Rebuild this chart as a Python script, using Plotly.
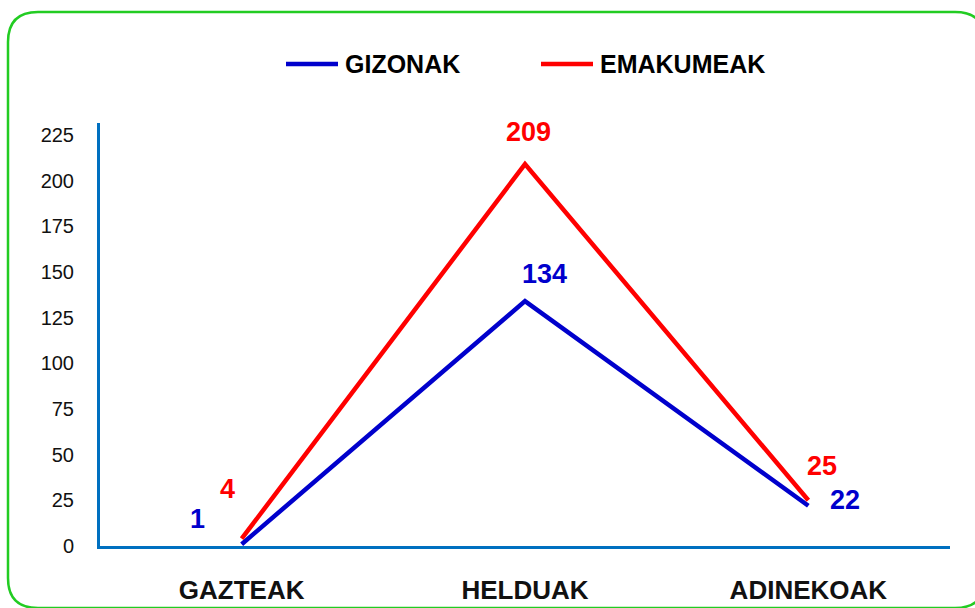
import plotly.graph_objects as go

categories = ["GAZTEAK", "HELDUAK", "ADINEKOAK"]
series_names = ["GIZONAK", "EMAKUMEAK"]
gizonak = [1, 134, 22]
emakumeak = [4, 209, 25]
y_ticks = [0, 25, 50, 75, 100, 125, 150, 175, 200, 225]

BLUE = "#0000CC"
RED = "#FF0000"
AXIS = "#0070C0"
GREEN = "#22CC22"

W, H = 975, 608
L, R, T, B = 100, 25, 123, 62
PW, PH = W - L - R, H - T - B

def px(x):
    return (x - L) / PW

def py(y):
    return (H - B - y) / PH

fig = go.Figure()
x_idx = list(range(len(categories)))
fig.add_trace(go.Scatter(x=x_idx, y=gizonak, mode="lines", line=dict(color=BLUE, width=4.5),
                         name=series_names[0], showlegend=False))
fig.add_trace(go.Scatter(x=x_idx, y=emakumeak, mode="lines", line=dict(color=RED, width=4.5),
                         name=series_names[1], showlegend=False))

# data labels
offs_b = [(-44, 25), (19, 27), (37, 6)]
offs_r = [(-14, 50), (3, 32), (14, 34)]
for i in x_idx:
    fig.add_annotation(x=i, y=gizonak[i], text="<b>%d</b>" % gizonak[i], showarrow=False,
                       xshift=offs_b[i][0], yshift=offs_b[i][1],
                       font=dict(family="Liberation Sans", size=27, color=BLUE))
    fig.add_annotation(x=i, y=emakumeak[i], text="<b>%d</b>" % emakumeak[i], showarrow=False,
                       xshift=offs_r[i][0], yshift=offs_r[i][1],
                       font=dict(family="Liberation Sans", size=27, color=RED))

# legend (manual)
legend_items = [(286, 338, 343, BLUE), (541, 593, 598, RED)]
for name, (x0, x1, tx, col) in zip(series_names, legend_items):
    fig.add_shape(type="line", xref="paper", yref="paper", x0=px(x0), x1=px(x1),
                  y0=py(64), y1=py(64), line=dict(color=col, width=4.5))
    fig.add_annotation(xref="paper", yref="paper", x=px(tx), y=py(64), text="<b>%s</b>" % name,
                       showarrow=False, xanchor="left", yanchor="middle",
                       font=dict(family="Liberation Sans", size=25, color="#000000"))

# green rounded border
x0b, y0b, x1b, y1b, r = 8, 12, 985, 608, 30
path = (f"M {px(x0b+r)},{py(y0b)} L {px(x1b-r)},{py(y0b)} Q {px(x1b)},{py(y0b)} {px(x1b)},{py(y0b+r)} "
        f"L {px(x1b)},{py(y1b-r)} Q {px(x1b)},{py(y1b)} {px(x1b-r)},{py(y1b)} "
        f"L {px(x0b+r)},{py(y1b)} Q {px(x0b)},{py(y1b)} {px(x0b)},{py(y1b-r)} "
        f"L {px(x0b)},{py(y0b+r)} Q {px(x0b)},{py(y0b)} {px(x0b+r)},{py(y0b)} Z")
fig.add_shape(type="path", xref="paper", yref="paper", path=path,
              line=dict(color=GREEN, width=2.5), layer="below")

fig.update_xaxes(range=[-0.5, 2.5], tickvals=x_idx, ticktext=["<b>%s</b>" % c for c in categories],
                 showgrid=False, zeroline=False, showline=True, linecolor=AXIS, linewidth=3,
                 ticks="", tickfont=dict(family="Liberation Sans", size=26, color="#111111"),
                 ticklabelstandoff=19)
fig.update_yaxes(range=[0, 231.5], tickvals=y_ticks, showgrid=False, zeroline=False,
                 showline=True, linecolor=AXIS, linewidth=3, ticks="",
                 tickfont=dict(family="Liberation Sans", size=20, color="#111111"),
                 ticklabelstandoff=19)

fig.update_layout(width=W, height=H, margin=dict(l=L, r=R, t=T, b=B, autoexpand=False),
                  plot_bgcolor="white", paper_bgcolor="white", showlegend=False)

fig.write_html("out.html", config={"displayModeBar": False},
               post_script="document.body.style.margin='0';document.body.style.overflow='hidden';")
